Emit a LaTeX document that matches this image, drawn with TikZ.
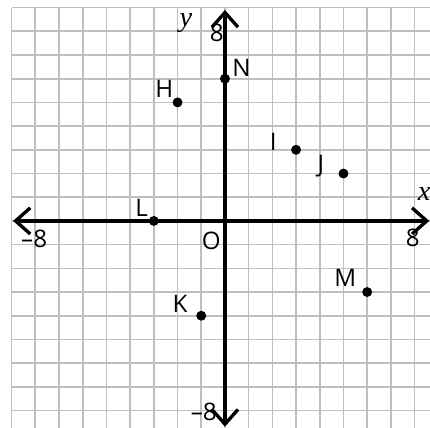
\documentclass[tikz,border=0pt]{standalone}
\usepackage{fontspec}
\setmainfont{Liberation Serif}
\setsansfont{Open Sans}
\usetikzlibrary{arrows.meta}

\begin{document}
\begin{tikzpicture}[
    dot/.style={circle, fill=black, inner sep=0pt, minimum size=0.42cm},
    lbl/.style={font=\sffamily\fontsize{29}{31}\selectfont, inner sep=0pt},
    var/.style={font=\itshape\fontsize{34}{36}\selectfont, inner sep=0pt},
    axis/.style={line width=4pt, line cap=round,
      {Straight Barb[length=0.62cm,width=1.1cm]}-{Straight Barb[length=0.62cm,width=1.1cm]}}]
  \useasboundingbox (-9.49,-8.73) rectangle (8.65,9.32);
  \draw[black!25, line width=2pt] (-9,-8.73) grid (8.65,9);

  \coordinate (xmin) at (-8.94,0);
  \coordinate (xmax) at (8.62,0);
  \coordinate (ymin) at (0,-8.68);
  \coordinate (ymax) at (0,8.9);
  \draw[axis] (xmin) -- (xmax);
  \draw[axis] (ymin) -- (ymax);

  \node[dot] (H) at (-2,5) {};
  \node[dot] (N) at (0,6) {};
  \node[dot] (I) at (3,3) {};
  \node[dot] (J) at (5,2) {};
  \node[dot] (L) at (-3,0) {};
  \node[dot] (K) at (-1,-4) {};
  \node[dot] (M) at (6,-3) {};

  \node[lbl] (Hl) at (-2.56,5.56) {H};
  \node[lbl] (Nl) at (0.70,6.44) {N};
  \node[lbl] (Il) at (2.04,3.35) {I};
  \node[lbl] (Jl) at (4.05,2.33) {J};
  \node[lbl] (Ll) at (-3.51,0.55) {L};
  \node[lbl] (Kl) at (-1.90,-3.49) {K};
  \node[lbl] (Ml) at (5.08,-2.42) {M};
  \node[lbl] (O) at (-0.58,-0.83) {O};

  \node[lbl] (xneg) at (-8.05,-0.75) {--8};
  \node[lbl] (xpos) at (7.92,-0.73) {8};
  \node[lbl] (ypos) at (-0.35,7.92) {8};
  \node[lbl] (yneg) at (-0.89,-8.04) {--8};
  \node[var] (ylab) at (-1.65,8.34) {y};
  \node[var] (xlab) at (8.4,1.12) {x};
\end{tikzpicture}
\end{document}
